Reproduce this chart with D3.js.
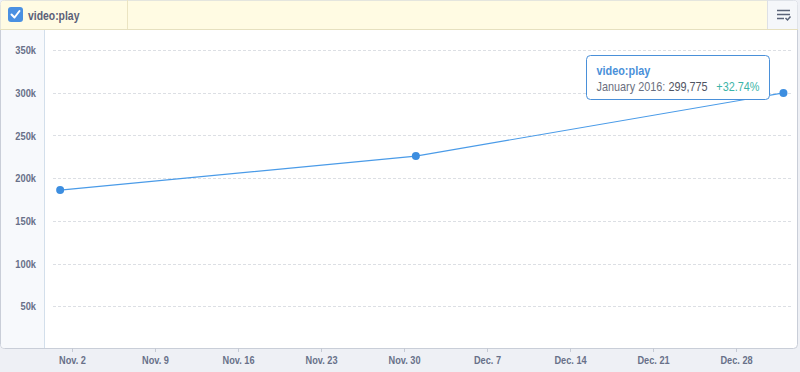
<!DOCTYPE html>
<html>
<head>
<meta charset="utf-8">
<script src="https://cdn.jsdelivr.net/npm/d3@7"></script>
<style>
  body { margin: 0; background: #eef0f5; font-family: "Liberation Sans", Arial, sans-serif; }
  svg { display: block; }
</style>
</head>
<body>
<script>
var width = 800;
var height = 372;

// data
var seriesName = "video:play";
var dates = ["2015-11-01", "2015-12-01", "2016-01-01"];
var values = [186000, 225836, 299775];
var yTicks = [50000, 100000, 150000, 200000, 250000, 300000, 350000];
var xTicks = ["2015-11-02", "2015-11-09", "2015-11-16", "2015-11-23", "2015-11-30",
              "2015-12-07", "2015-12-14", "2015-12-21", "2015-12-28"];
var tipLabel = "January 2016";
var tipValue = "299,775";
var tipChange = "+32.74%";

var font = "Liberation Sans, Arial, sans-serif";
var labelColor = "#687089";

var parse = d3.utcParse("%Y-%m-%d");
var data = dates.map(function(d, i) { return { date: parse(d), value: values[i] }; });

var svg = d3.select("body").append("svg")
    .attr("width", width)
    .attr("height", height)
    .attr("font-family", font);

// panel
svg.append("rect")
    .attr("x", 0.5).attr("y", 0.5)
    .attr("width", 797).attr("height", 348)
    .attr("rx", 4)
    .attr("fill", "#fff")
    .attr("stroke", "#c9ced8");

// header band
svg.append("path")
    .attr("d", "M0.5,29.5 V4.5 Q0.5,0.5 4.5,0.5 H767.5 V29.5 Z")
    .attr("fill", "#fffbe3");
svg.append("path")
    .attr("d", "M767.5,0.5 H793.5 Q797.5,0.5 797.5,4.5 V29.5 H767.5 Z")
    .attr("fill", "#f5f7fa");
svg.append("line").attr("x1", 0).attr("x2", 798).attr("y1", 29.5).attr("y2", 29.5)
    .attr("stroke", "#e6e0bf");
svg.append("line").attr("x1", 127.5).attr("x2", 127.5).attr("y1", 0).attr("y2", 29)
    .attr("stroke", "#ebe4c2");
svg.append("line").attr("x1", 767.5).attr("x2", 767.5).attr("y1", 0).attr("y2", 29)
    .attr("stroke", "#dde0e6");

// checkbox
svg.append("rect")
    .attr("x", 8).attr("y", 7).attr("width", 15).attr("height", 15).attr("rx", 3)
    .attr("fill", "#4a90e2");
svg.append("path")
    .attr("d", "M11.5,14.5 L14.5,17.5 L19.5,11")
    .attr("fill", "none").attr("stroke", "#fff").attr("stroke-width", 2)
    .attr("stroke-linecap", "round").attr("stroke-linejoin", "round");
svg.append("text")
    .attr("transform", "translate(28,19.5) scale(0.8,1)")
    .attr("font-size", 13).attr("font-weight", 700)
    .attr("fill", "#5a6078")
    .text(seriesName);

// menu icon
var icon = svg.append("g").attr("stroke", "#5a6378").attr("stroke-width", 1.5).attr("fill", "none");
icon.append("line").attr("x1", 777).attr("x2", 790).attr("y1", 10.5).attr("y2", 10.5);
icon.append("line").attr("x1", 777).attr("x2", 790).attr("y1", 14.5).attr("y2", 14.5);
icon.append("line").attr("x1", 777).attr("x2", 784).attr("y1", 18.5).attr("y2", 18.5);
icon.append("path").attr("d", "M785.5,18 L787.5,20 L790.5,16.5");

// y axis panel
svg.append("path")
    .attr("d", "M1,30 H44 V348 H4.5 Q1,348 1,344.5 Z")
    .attr("fill", "#f7f9fc");
svg.append("line").attr("x1", 44.5).attr("x2", 44.5).attr("y1", 30).attr("y2", 348)
    .attr("stroke", "#d3dfeb");

var x = d3.scaleUtc()
    .domain([parse("2015-11-02"), parse("2015-12-28")])
    .range([72, 736]);

var y = d3.scaleLinear()
    .domain([0, 350000])
    .range([349, 50]);

// grid
svg.append("g")
  .selectAll("line")
  .data(yTicks)
  .enter().append("line")
    .attr("x1", 53).attr("x2", 791)
    .attr("y1", function(d) { return Math.round(y(d)) + 0.5; })
    .attr("y2", function(d) { return Math.round(y(d)) + 0.5; })
    .attr("stroke", "#dcdfe4")
    .attr("stroke-dasharray", "3,2");

// y labels
var yAxis = svg.append("g")
    .attr("transform", "translate(36,0)")
    .call(d3.axisLeft(y).tickValues(yTicks).tickSize(0).tickPadding(0)
      .tickFormat(function(d) { return (d / 1000) + "k"; }));
yAxis.select(".domain").remove();
yAxis.selectAll("text")
    .attr("font-family", font)
    .attr("font-size", 11.5).attr("font-weight", 700)
    .attr("transform", "scale(0.81,1)")
    .attr("fill", labelColor);

// x axis
var xAxis = svg.append("g")
    .attr("transform", "translate(0,348)")
    .call(d3.axisBottom(x).tickValues(xTicks.map(parse)).tickSize(4).tickPadding(4)
      .tickFormat(function(d) { return d3.utcFormat("%b")(d) + ". " + d.getUTCDate(); }));
xAxis.select(".domain").remove();
xAxis.selectAll("line").attr("stroke", "#c5cad4");
xAxis.selectAll("text")
    .attr("font-family", font)
    .attr("font-size", 11.5).attr("font-weight", 700)
    .attr("transform", "scale(0.8,1)")
    .attr("fill", labelColor);

// line
var line = d3.line()
    .x(function(d) { return x(d.date); })
    .y(function(d) { return y(d.value); });

svg.append("path")
    .datum(data)
    .attr("d", line)
    .attr("fill", "none")
    .attr("stroke", "#4a9be8")
    .attr("stroke-width", 1.2);

svg.append("g")
  .selectAll("circle")
  .data(data)
  .enter().append("circle")
    .attr("cx", function(d) { return x(d.date); })
    .attr("cy", function(d) { return y(d.value); })
    .attr("r", 4)
    .attr("fill", "#3d8ee0");

// tooltip
var tip = svg.append("g").attr("transform", "translate(586.5,55.5)");
tip.append("rect")
    .attr("width", 183).attr("height", 44).attr("rx", 4)
    .attr("fill", "#fff")
    .attr("stroke", "#4a90d9");
tip.append("text")
    .attr("transform", "translate(10,19) scale(0.87,1)")
    .attr("font-size", 12.5).attr("font-weight", 700)
    .attr("fill", "#4a90d9")
    .text(seriesName);
var t2 = tip.append("text")
    .attr("transform", "translate(10,35) scale(0.87,1)")
    .attr("font-size", 12.5)
    .attr("fill", "#6b7080");
t2.append("tspan").text(tipLabel + ": ");
t2.append("tspan").attr("fill", "#4f5462").text(tipValue);
t2.append("tspan").attr("dx", 10).attr("fill", "#3bb4a8").text(tipChange);
</script>
</body>
</html>
